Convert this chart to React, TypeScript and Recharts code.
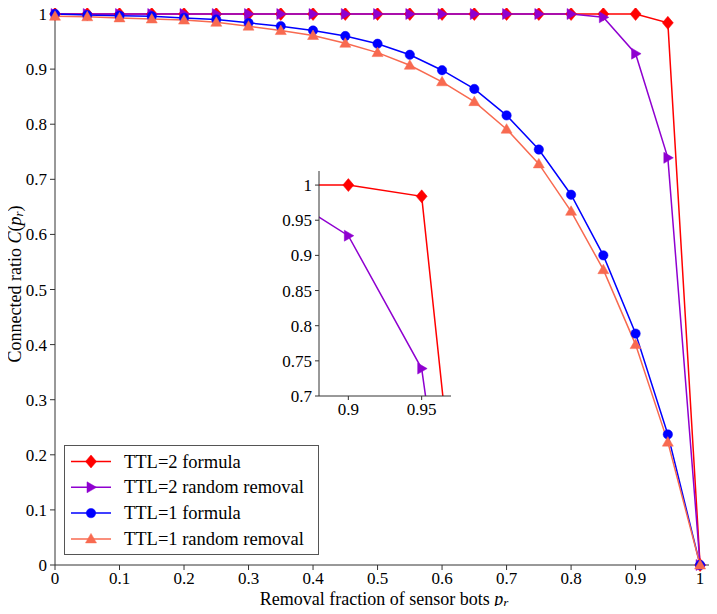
import React from 'react';
import { LineChart, Line, XAxis, YAxis, Legend, CartesianGrid } from 'recharts';

const xValues = [0, 0.05, 0.1, 0.15, 0.2, 0.25, 0.3, 0.35, 0.4, 0.45, 0.5, 0.55, 0.6, 0.65, 0.7, 0.75, 0.8, 0.85, 0.9, 0.95, 1];
const ttl2Formula = [1, 1, 1, 1, 1, 1, 1, 1, 1, 1, 1, 1, 1, 1, 1, 1, 1, 1, 1, 0.984, 0];
const ttl2Random = [1, 1, 1, 1, 1, 1, 1, 1, 1, 1, 1, 1, 1, 1, 1, 1, 1, 0.994, 0.928, 0.739, 0];
const ttl1Formula = [1.0, 0.998, 0.997, 0.996, 0.993, 0.99, 0.984, 0.978, 0.97, 0.96, 0.946, 0.926, 0.898, 0.864, 0.816, 0.754, 0.672, 0.562, 0.42, 0.237, 0];
const ttl1Random = [0.996, 0.995, 0.993, 0.991, 0.989, 0.985, 0.978, 0.97, 0.961, 0.947, 0.93, 0.907, 0.877, 0.841, 0.791, 0.728, 0.642, 0.536, 0.4, 0.223, 0];

const mainXTicks = [0, 0.1, 0.2, 0.3, 0.4, 0.5, 0.6, 0.7, 0.8, 0.9, 1];
const mainYTicks = [0, 0.1, 0.2, 0.3, 0.4, 0.5, 0.6, 0.7, 0.8, 0.9, 1];
const insetXTicks = [0.9, 0.95];
const insetYTicks = [0.7, 0.75, 0.8, 0.85, 0.9, 0.95, 1];

const seriesNames = ['TTL=2 formula', 'TTL=2 random removal', 'TTL=1 formula', 'TTL=1 random removal'];
const seriesKeys = ['ttl2f', 'ttl2r', 'ttl1f', 'ttl1r'];
const seriesColors = ['#ff0000', '#8f00d0', '#0000ff', '#f86a50'];
const seriesMarkers = ['diamond', 'triRight', 'circle', 'triUp'];

const data = xValues.map((x, i) => ({
  x,
  ttl2f: ttl2Formula[i],
  ttl2r: ttl2Random[i],
  ttl1f: ttl1Formula[i],
  ttl1r: ttl1Random[i],
}));

const FONT = "'Liberation Serif', 'DejaVu Serif', 'Times New Roman', Times, serif";
const TXT = { fontFamily: FONT };
const AXIS = '#333';
const LABEL_SIZE = 18;
const LEGEND_SIZE = 18.5;

function Marker({ kind, cx, cy, color }: { kind: string; cx: number; cy: number; color: string }) {
  if (cx == null || cy == null || isNaN(cx) || isNaN(cy)) return null;
  if (kind === 'diamond') {
    return <polygon points={`${cx},${cy - 6.5} ${cx + 5.5},${cy} ${cx},${cy + 6.5} ${cx - 5.5},${cy}`} fill={color} stroke={color} strokeWidth={0.5} />;
  }
  if (kind === 'triRight') {
    return <polygon points={`${cx + 5.5},${cy} ${cx - 4},${cy - 5.5} ${cx - 4},${cy + 5.5}`} fill={color} stroke={color} strokeWidth={0.5} />;
  }
  if (kind === 'circle') {
    return <circle cx={cx} cy={cy} r={4.7} fill={color} stroke={color} strokeWidth={0.5} />;
  }
  return <polygon points={`${cx},${cy - 5.5} ${cx + 5.5},${cy + 4} ${cx - 5.5},${cy + 4}`} fill={color} stroke={color} strokeWidth={0.5} />;
}

const makeDot = (kind: string, color: string) => (props: any) => (
  <g key={`${kind}-${props.index}`}>
    <Marker kind={kind} cx={props.cx} cy={props.cy} color={color} />
  </g>
);

const fmt = (v: number) => String(v);

function XLabel(props: any) {
  const vb = props.viewBox || {};
  const cx = vb.x + vb.width / 2;
  const y = vb.y + 39.5;
  return (
    <text x={cx} y={y} textAnchor="middle" fontSize={LABEL_SIZE} style={TXT} fill="#000">
      <tspan>Removal fraction of sensor bots </tspan>
      <tspan fontStyle="italic">p</tspan>
      <tspan fontStyle="italic" fontSize={13} dy={2.5}>r</tspan>
    </text>
  );
}

function YLabel(props: any) {
  const vb = props.viewBox || {};
  const x = vb.x + 15;
  const cy = vb.y + vb.height / 2;
  return (
    <text x={x} y={cy} transform={`rotate(-90, ${x}, ${cy})`} textAnchor="middle" dominantBaseline="central" fontSize={LABEL_SIZE} style={TXT} fill="#000">
      <tspan>Connected ratio </tspan>
      <tspan fontStyle="italic">C</tspan>
      <tspan>(</tspan>
      <tspan fontStyle="italic">p</tspan>
      <tspan fontStyle="italic" fontSize={13} dy={3}>r</tspan>
      <tspan dy={-3}>)</tspan>
    </text>
  );
}

function LegendBox() {
  return (
    <div style={{ width: 255, height: 110, border: '1px solid #555', background: '#fff', boxSizing: 'border-box' }}>
      <svg width={253} height={108}>
        {seriesNames.map((name, i) => {
          const y = 15.5 + i * 25.8;
          return (
            <g key={name}>
              <line x1={6} x2={46} y1={y} y2={y} stroke={seriesColors[i]} strokeWidth={1.5} />
              <Marker kind={seriesMarkers[i]} cx={26} cy={y} color={seriesColors[i]} />
              <text x={59} y={y} dominantBaseline="central" fontSize={LEGEND_SIZE} style={TXT} fill="#000">{name}</text>
            </g>
          );
        })}
      </svg>
    </div>
  );
}

const tickStyle = { fill: '#000', fontSize: 17, fontFamily: FONT, style: TXT };

export default function App() {
  return (
    <div style={{ position: 'relative', width: 717, height: 614, margin: -8, background: '#fff', fontFamily: FONT }}>
      <LineChart width={717} height={614} data={data} margin={{ top: 3, right: 4, bottom: 0, left: 0 }} style={TXT}>
        <XAxis
          dataKey="x"
          type="number"
          domain={[0, 1.02]}
          ticks={mainXTicks}
          interval={0}
          height={49}
          tickSize={5}
          tickMargin={2}
          stroke={AXIS}
          tick={tickStyle}
          tickFormatter={fmt}
          label={{ content: XLabel }}
        />
        <XAxis xAxisId="top" orientation="top" dataKey="x" type="number" domain={[0, 1.02]} height={0} tick={false} tickLine={false} stroke={AXIS} />
        <YAxis
          type="number"
          domain={[0, 1.02]}
          ticks={mainYTicks}
          interval={0}
          width={55}
          tickSize={5}
          tickMargin={3}
          stroke={AXIS}
          tick={tickStyle}
          tickFormatter={fmt}
          label={{ content: YLabel }}
        />
        <YAxis yAxisId="right" orientation="right" type="number" domain={[0, 1.02]} width={0} tick={false} tickLine={false} stroke={AXIS} />
        {seriesKeys.map((k, i) => (
          <Line
            key={k}
            dataKey={k}
            name={seriesNames[i]}
            type="linear"
            stroke={seriesColors[i]}
            strokeWidth={1.5}
            dot={makeDot(seriesMarkers[i], seriesColors[i])}
            activeDot={false}
            isAnimationActive={false}
          />
        ))}
        <Legend
          layout="vertical"
          align="center"
          verticalAlign="middle"
          content={() => <LegendBox />}
          wrapperStyle={{ left: 64, top: 445, width: 255, height: 110 }}
        />
      </LineChart>
      <div style={{ position: 'absolute', left: 270, top: 160 }}>
        <LineChart width={186} height={266} data={data} margin={{ top: 11, right: 5, bottom: 0, left: 0 }} style={TXT}>
          <CartesianGrid horizontal={false} vertical={false} fill="#fff" />
          <XAxis
            dataKey="x"
            type="number"
            domain={[0.88, 0.97]}
            allowDataOverflow
            ticks={insetXTicks}
            interval={0}
            height={30}
            tickSize={4}
            tickMargin={3}
            stroke={AXIS}
            tick={tickStyle}
            tickFormatter={fmt}
          />
          <XAxis xAxisId="top" orientation="top" dataKey="x" type="number" domain={[0.88, 0.97]} allowDataOverflow height={0} tick={false} tickLine={false} stroke={AXIS} />
          <YAxis
            type="number"
            domain={[0.7, 1.02]}
            allowDataOverflow
            ticks={insetYTicks}
            interval={0}
            width={49}
            tickSize={4}
            tickMargin={3}
            stroke={AXIS}
            tick={tickStyle}
            tickFormatter={fmt}
          />
          <YAxis yAxisId="right" orientation="right" type="number" domain={[0.7, 1.02]} allowDataOverflow width={0} tick={false} tickLine={false} stroke={AXIS} />
          {seriesKeys.slice(0, 2).map((k, i) => (
            <Line
              key={k}
              dataKey={k}
              type="linear"
              stroke={seriesColors[i]}
              strokeWidth={1.5}
              dot={makeDot(seriesMarkers[i], seriesColors[i])}
              activeDot={false}
              isAnimationActive={false}
            />
          ))}
        </LineChart>
      </div>
    </div>
  );
}
